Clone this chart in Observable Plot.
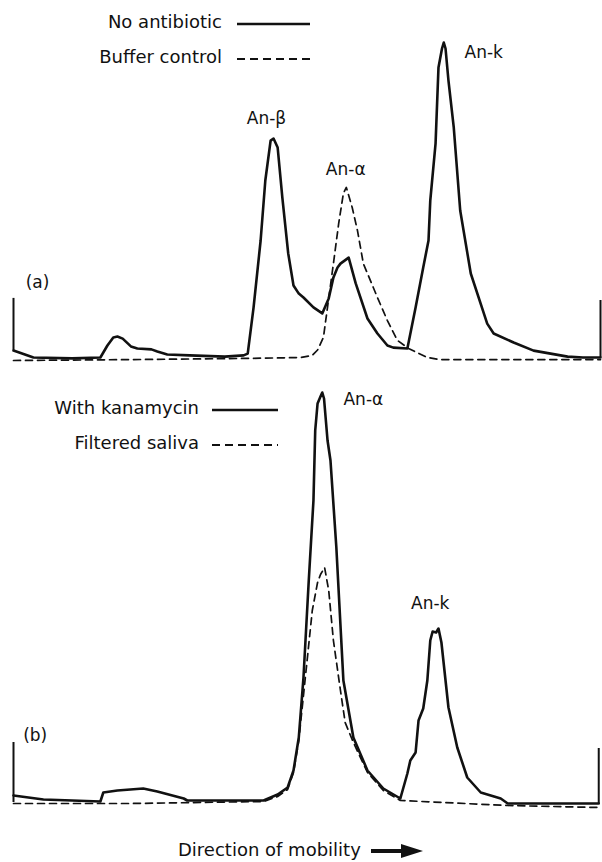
<!DOCTYPE html>
<html><head><meta charset="utf-8">
<script src="https://cdn.jsdelivr.net/npm/d3@7"></script>
<script src="https://cdn.jsdelivr.net/npm/@observablehq/plot@0.6"></script>
<style>
body{margin:0;background:#fff;font-family:"DejaVu Sans",sans-serif;color:#111;}
#fig{position:relative;width:602px;height:862px;overflow:hidden;}
.panel{position:absolute;left:0;}
.leg{position:absolute;font-size:18px;white-space:nowrap;line-height:20px;}
.legtxt{position:absolute;right:0;}
</style></head><body><div id="fig"></div>
<script>
// Panel (a): mobility (0–100) vs. absorbance (arbitrary units)
const solidA = [[0,3.3],[3.4,1.0],[10,0.7],[14.8,1.0],[16.0,5],[17.0,7.7],[17.7,8],[18.6,7.3],[20.0,4.7],[21.1,4.0],[23.5,3.7],[24.5,3.0],[26.2,2.0],[30,1.7],[36,1.3],[39.2,1.7],[39.9,2.3],[40.9,17.7],[42.1,40],[42.9,60],[43.8,73.3],[44.3,74],[45.0,71],[45.8,54.3],[46.8,35.7],[47.7,25],[48.6,22.3],[49.4,21],[51.1,17.7],[52.6,15.7],[53.7,20.7],[54.5,27.7],[55.2,31],[55.7,32.3],[57.1,34.3],[58.3,25.7],[60.3,14],[62.0,9],[63.7,5],[64.7,4.3],[67.1,4],[68.5,17.7],[69.8,31],[70.7,40],[71.0,53.3],[71.9,72.3],[72.4,97.7],[73.0,104],[73.3,106],[73.6,104],[74.1,93.3],[75.0,77.7],[76.1,50],[77.9,29],[80.7,12.3],[81.8,9],[85.2,6],[88.6,3.3],[94.4,1.3],[97,1.0],[100,1.0]];
const dashA = [[0,0],[20,0.3],[40,0.7],[48.9,1.0],[50.9,1.7],[51.8,3.5],[52.8,7.7],[54.5,32.3],[55.4,45.7],[56.2,55.7],[56.7,57.7],[57.7,51],[58.6,43.3],[59.6,32.3],[62.0,21],[63.7,13.3],[65.4,6.7],[67.3,4],[70.5,1],[72.7,0.3],[100,0.3]];
const ticksA = [{x:0,y1:3.3,y2:20.7},{x:100,y1:1,y2:20}];
const labelsA = [{x:43.1,y:80.7,t:"An-β"},{x:56.6,y:63.7,t:"An-α"},{x:80.1,y:102.7,t:"An-k"},{x:4.1,y:26,t:"(a)"}];

// Panel (b)
const solidB = [[0,3.75],[5.1,2.75],[10,2.5],[14.8,2.25],[15.3,4.5],[17.7,5],[22.1,5.5],[24.5,4.75],[29.0,3],[29.6,2.5],[42.6,2.5],[45.0,4],[46.7,5.75],[47.7,10],[48.6,18.25],[49.4,33.25],[50.3,57.5],[51.1,77.5],[51.4,95],[51.8,101.75],[52.3,103.5],[52.6,104.5],[52.9,103],[53.5,92.5],[54.0,87.5],[55.0,65.75],[56.2,32.5],[57.9,18.25],[60.3,10],[63.0,5.5],[65.9,3],[67.1,9.25],[67.6,12.5],[68.5,14.5],[69.0,22.5],[69.8,25.5],[70.5,32.5],[71.0,42.5],[71.4,44.75],[72.0,44.5],[72.4,45.5],[72.9,42],[73.6,32.5],[74.1,25.75],[75.6,15.75],[77.3,8.25],[79.6,4.5],[83.0,3],[84.2,1.75],[99.7,1.75]];
const dashB = [[0,1.75],[20,1.75],[42.6,2.25],[45,3.5],[46.7,5.25],[47.7,9.5],[48.6,17.5],[49.7,33],[50.9,50],[51.8,57],[52.3,59],[53.0,60.75],[53.7,55],[54.5,42.5],[55.7,30],[56.5,22],[57.9,17],[60.3,9.5],[63.0,5],[65.9,2.5],[84.2,1.25],[99.7,0.75]];
const ticksB = [{x:0,y1:2,y2:17},{x:99.7,y1:1.75,y2:15.5}];
const labelsB = [{x:59.6,y:102.75,t:"An-α"},{x:71.0,y:51.75,t:"An-k"},{x:3.7,y:18.75,t:"(b)"}];

const legendA = [{t:"No antibiotic",dash:null},{t:"Buffer control",dash:"8,5"}];
const legendB = [{t:"With kanamycin",dash:null},{t:"Filtered saliva",dash:"8,5"}];

const toObj = a => a.map(([x,y]) => ({x,y}));
const fig = document.getElementById("fig");

function panel(solid, dash, ticks, labels, yMax, height, top){
  const p = Plot.plot({
    width:602, height, marginLeft:13, marginRight:2, marginTop:0, marginBottom:10,
    x:{domain:[0,100], axis:null}, y:{domain:[0,yMax], axis:null},
    style:{fontFamily:"DejaVu Sans", fontSize:"17px", background:"transparent", overflow:"visible"},
    marks:[
      Plot.ruleX(ticks,{x:"x",y1:"y1",y2:"y2",stroke:"#111",strokeWidth:2}),
      Plot.line(toObj(dash),{x:"x",y:"y",stroke:"#111",strokeWidth:1.7,strokeDasharray:"7,5"}),
      Plot.line(toObj(solid),{x:"x",y:"y",stroke:"#111",strokeWidth:2.6}),
      Plot.text(labels,{x:"x",y:"y",text:"t",fontSize:17,fill:"#111"})
    ]
  });
  p.classList.add("panel"); p.style.top = top+"px";
  fig.appendChild(p);
}
panel(solidA, dashA, ticksA, labelsA, 120, 370, 0);
panel(solidB, dashB, ticksB, labelsB, 110, 450, 370);

function legend(items, textRight, x1, x2, tops){
  items.forEach((it,i)=>{
    const d = document.createElement("div");
    d.className="leg";
    d.style.left="0px"; d.style.top=(tops[i]-10)+"px"; d.style.width=x2+"px"; d.style.height="20px";
    d.innerHTML = `<span class="legtxt" style="right:${x2-textRight}px">${it.t}</span>`+
      `<svg style="position:absolute;left:${x1}px;top:0" width="${x2-x1}" height="20"><line x1="0" x2="${x2-x1}" y1="12" y2="12" stroke="#111" stroke-width="${it.dash?1.8:2.6}" ${it.dash?`stroke-dasharray="${it.dash}"`:""}/></svg>`;
    fig.appendChild(d);
  });
}
legend(legendA, 222, 237, 310, [22,57]);
legend(legendB, 199, 212, 278, [408,443]);

const foot = document.createElement("div");
foot.style.cssText="position:absolute;left:0;top:838px;width:602px;height:24px;font-size:18px;line-height:24px;";
foot.innerHTML = `<span style="position:absolute;left:178px">Direction of mobility</span>`+
 `<svg style="position:absolute;left:371px;top:3px" width="54" height="20"><path d="M0,8 L30,8 L30,3 L52,10 L30,17 L30,12 L0,12 Z" fill="#111"/></svg>`;
fig.appendChild(foot);
</script>
</body></html>
